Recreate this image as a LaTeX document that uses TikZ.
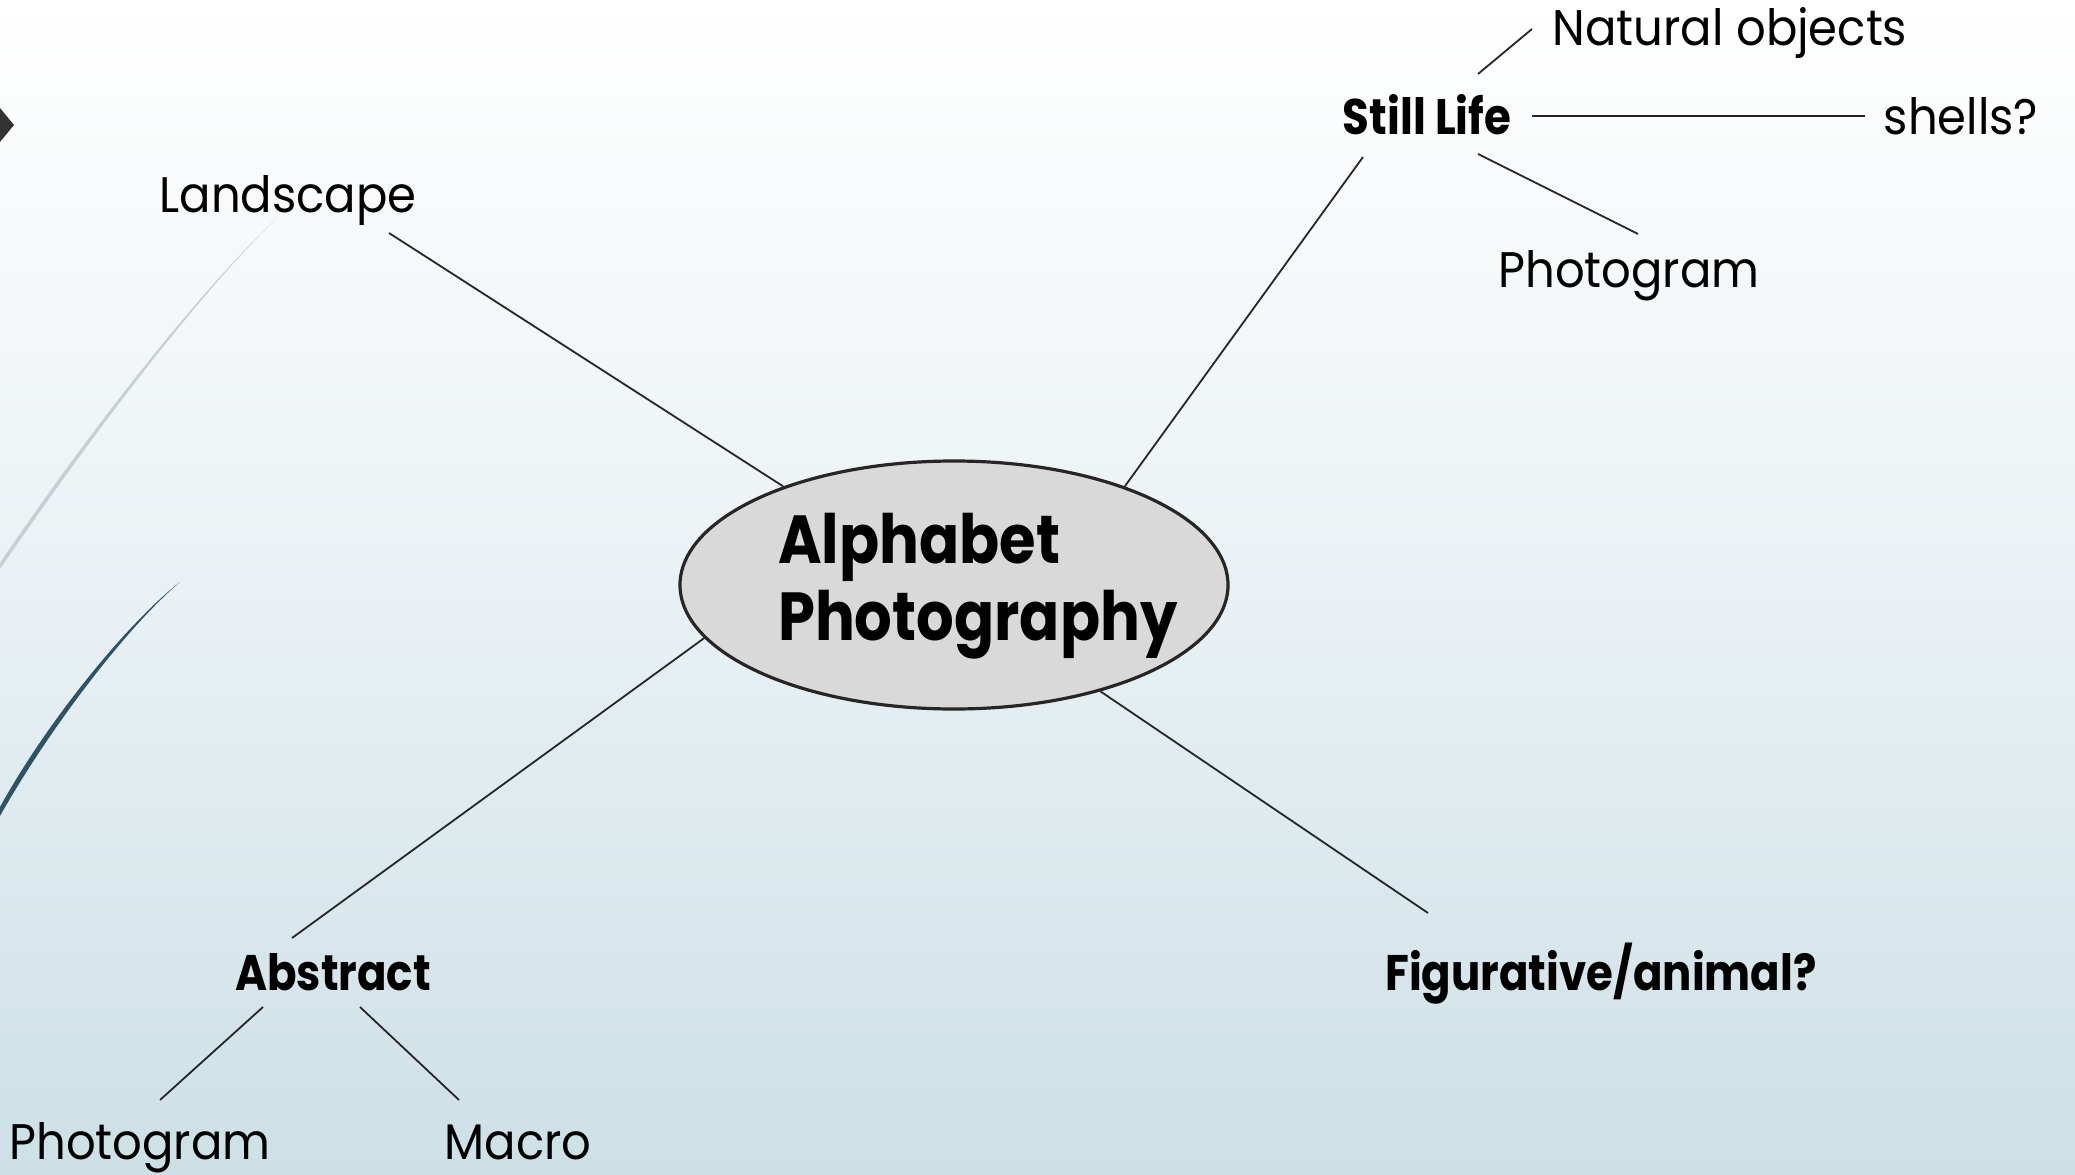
\documentclass[tikz,border=0pt]{standalone}
\usepackage{fontspec}
\setmainfont{Poppins}[FakeStretch=0.93]
\newfontfamily\boldnarrow{Poppins}[FakeStretch=0.87]
\usetikzlibrary{shapes.geometric}
\definecolor{bgtop}{RGB}{255,255,255}
\definecolor{bgbot}{RGB}{204,224,230}
\definecolor{ink}{RGB}{38,38,38}
\definecolor{ellfill}{RGB}{217,217,217}
\definecolor{lightarc}{RGB}{198,207,212}
\definecolor{darkarc}{RGB}{46,82,102}
\definecolor{tabdark}{RGB}{51,51,51}
\tikzset{
  lab/.style={font=\fontsize{50}{60}\selectfont, inner sep=0pt, text=black},
  blab/.style={font=\boldnarrow\fontsize{50}{60}\selectfont\bfseries, inner sep=0pt, text=black},
  conn/.style={draw=ink, line width=1.8pt},
}
\begin{document}
\begin{tikzpicture}[x=1pt,y=-1pt]
\useasboundingbox (0,0) rectangle (2075,1175);
% background
\shade[top color=bgtop, bottom color=bgbot, middle color={rgb,255:red,234;green,241;blue,244}] (0,0) rectangle (2075,1175);
% decorative arcs
\fill[lightarc] (278,217) .. controls (200,290) and (90,430) .. (0,563) -- (0,569) .. controls (93,433) and (201,291) .. (278,217) -- cycle;
\fill[darkarc] (180,582) .. controls (125,625) and (45,725) .. (0,807) -- (0,816) .. controls (49,729) and (127,627) .. (180,582) -- cycle;
% tab at top left
\fill[tabdark] (0,108) -- (14,125) -- (0,142) -- cycle;

% central ellipse
\node[ellipse, draw=ink, line width=3.2pt, fill=ellfill, minimum width=548pt, minimum height=248pt, inner sep=0pt] (ell) at (954,585) {};
\node[font=\boldnarrow\fontsize{68}{77}\selectfont\bfseries, align=left, anchor=base west, inner sep=0pt] (title) at (778,640) {Alphabet\\Photography};

% labels
\node[lab, anchor=base] (land) at (288,212) {Landscape};
\node[blab, anchor=base] (still) at (1427,134) {Still Life};
\node[lab, anchor=base] (nat) at (1730,45) {Natural objects};
\node[lab, anchor=base] (shells) at (1961,134) {shells?};
\node[lab, anchor=base] (photo1) at (1629,287) {Photogram};
\node[blab, anchor=base] (abs) at (333,990) {Abstract};
\node[blab, anchor=base] (fig) at (1601,990) {Figurative/animal?};
\node[lab, anchor=base] (photo2) at (140,1159) {Photogram};
\node[lab, anchor=base] (macro) at (518,1159) {Macro};

% connector end points
\coordinate (landE) at (389,233);
\coordinate (stillS) at (1363,157);
\coordinate (stillN) at (1478,74);
\coordinate (natS) at (1532,29);
\coordinate (stillE) at (1532,116);
\coordinate (shellsW) at (1865,116);
\coordinate (stillSE) at (1478,154);
\coordinate (photo1N) at (1638,234);
\coordinate (figN) at (1428,913);
\coordinate (absN) at (292,938);
\coordinate (absSW) at (263,1007);
\coordinate (photo2N) at (160,1100);
\coordinate (absSE) at (360,1007);
\coordinate (macroN) at (459,1100);

% connectors
\draw[conn] (landE) -- (ell.150);
\draw[conn] (stillS) -- (ell.30);
\draw[conn] (stillN) -- (natS);
\draw[conn] (stillE) -- (shellsW);
\draw[conn] (stillSE) -- (photo1N);
\draw[conn] (ell.-36) -- (figN);
\draw[conn] (ell.192) -- (absN);
\draw[conn] (absSW) -- (photo2N);
\draw[conn] (absSE) -- (macroN);
\end{tikzpicture}
\end{document}
